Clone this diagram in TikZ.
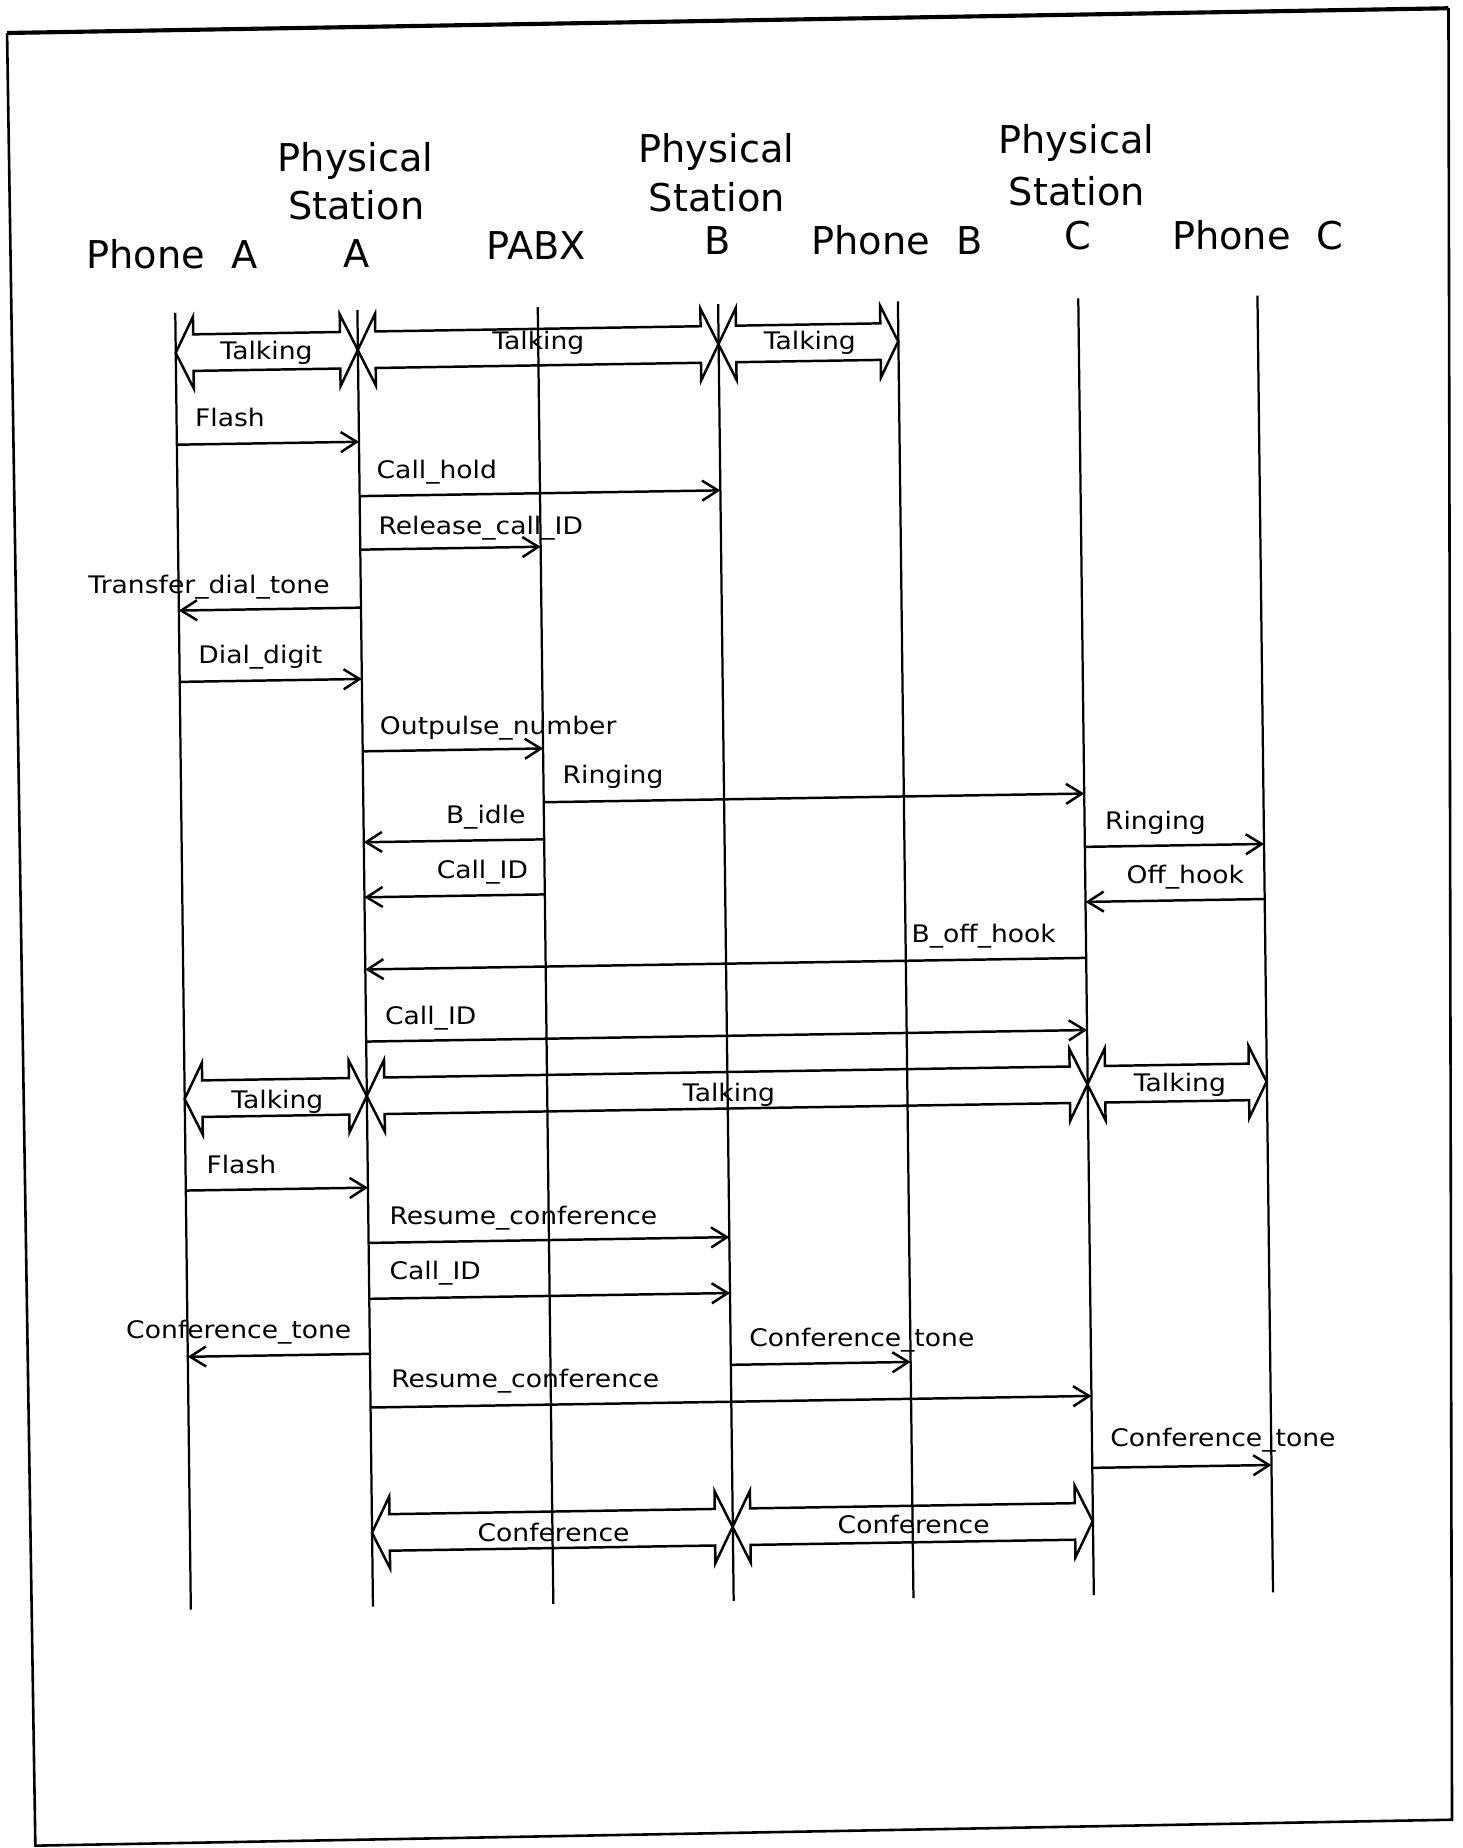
\documentclass[tikz,border=0pt]{standalone}
\usepackage{fontspec}
\setmainfont{DejaVu Sans}
\newfontfamily\hdrfont{DejaVu Sans}
\newfontfamily\lblfont[FakeStretch=1.1]{DejaVu Sans}
\usetikzlibrary{arrows.meta}
\def\xPA{155}\def\xSA{309.5}\def\xPX{462.5}\def\xSB{615.5}\def\xPB{768}\def\xSC{921}\def\xPC{1073}
\newcommand\msgline[4]{%
  \coordinate (#1-s) at (#2,#4);
  \coordinate (#1-e) at (#3,#4);
  \draw[msg] (#1-s) -- (#1-e);}
\newcommand\blockar[3]{%
  \pgfmathsetmacro\ba{#1+15}\pgfmathsetmacro\bb{#2-15}%
  \pgfmathsetmacro\yt{#3-30.5}\pgfmathsetmacro\ys{#3-15.5}%
  \pgfmathsetmacro\yu{#3+15.5}\pgfmathsetmacro\yb{#3+30.5}%
  \draw[blk] (#1,#3) -- (\ba,\yt) -- (\ba,\ys) -- (\bb,\ys) -- (\bb,\yt) -- (#2,#3)
     -- (\bb,\yb) -- (\bb,\yu) -- (\ba,\yu) -- (\ba,\yb) -- cycle;}
\begin{document}
\begin{tikzpicture}[x=1pt,y=-1pt,
  life/.style={line width=1.9pt},
  msg/.style={line width=2.1pt,-{Straight Barb[length=13.5pt,width=17pt]}},
  blk/.style={line width=2.1pt,line join=miter},
  hdr/.style={inner sep=0pt,anchor=base,font=\hdrfont\fontsize{32.5}{39}\selectfont},
  lbl/.style={inner sep=0pt,anchor=base west,font=\lblfont\fontsize{20.5}{24}\selectfont},
  clbl/.style={lbl,anchor=base},
  frameline/.style={line width=2.2pt}]
\useasboundingbox (0,0) rectangle (1241,1568);
% frame of the sheet
\draw[line width=3.5pt] (6,28) -- (1229,7);
\draw[frameline] (1229,7) -- (1232,1544) -- (30,1566) -- (6,28);

\begin{scope}[cm={1,0.016,-0.012,1,(-9.408pt,-9.92pt)}]
% headers
\node[hdr] (hPA) at (152.7,220) {Phone\hspace{22pt}A};
\node[hdr] (hSA1) at (\xSA,140.5) {Physical};
\node[hdr] (hSA2) at (\xSA,181) {Station};
\node[hdr] (hSA3) at (\xSA,222.4) {A};
\node[hdr] (hPX) at (461.8,217.4) {PABX};
\node[hdr] (hSB1) at (\xSB,137.8) {Physical};
\node[hdr] (hSB2) at (\xSB,179.4) {Station};
\node[hdr] (hSB3) at (\xSB,216.1) {B};
\node[hdr] (hPB) at (767.8,218.6) {Phone\hspace{22pt}B};
\node[hdr] (hSC1) at (\xSC,134.7) {Physical};
\node[hdr] (hSC2) at (\xSC,179.4) {Station};
\node[hdr] (hSC3) at (\xSC,216.2) {C};
\node[hdr] (hPC) at (1073.9,218.7) {Phone\hspace{22pt}C};

% lifelines
\foreach \n/\x in {PA/155,SA/309.5,PX/462.5,SB/615.5,PB/768,SC/921,PC/1073}{
  \coordinate (\n-t) at (\x,258);
  \coordinate (\n-b) at (\x,1358);
  \draw[life] (\n-t) -- (\n-b);
}

% block arrows
\blockar{\xPA}{\xSA}{292}
\blockar{\xSA}{\xSB}{292}
\blockar{\xSB}{\xPB}{292}
\blockar{\xPA}{\xSA}{925}
\blockar{\xSA}{\xSC}{925}
\blockar{\xSC}{\xPC}{925}
\blockar{\xSA}{\xSB}{1295.5}
\blockar{\xSB}{\xSC}{1295.5}

% messages
\msgline{m1}{\xPA}{\xSA}{369.8}
\msgline{m2}{\xSA}{\xSB}{415.9}
\msgline{m3}{\xSA}{\xPX}{461.3}
\msgline{m4}{\xSA}{\xPA}{510.5}
\msgline{m5}{\xPA}{\xSA}{571}
\msgline{m6}{\xSA}{\xPX}{632.4}
\msgline{m7}{\xPX}{\xSC}{678}
\msgline{m8}{\xPX}{\xSA}{709.5}
\msgline{m9}{\xSC}{\xPC}{723.2}
\msgline{m10}{\xPX}{\xSA}{756.2}
\msgline{m11}{\xPC}{\xSC}{769.9}
\msgline{m12}{\xSC}{\xSA}{817.4}
\msgline{m13}{\xSA}{\xSC}{878.6}
\msgline{m14}{\xPA}{\xSA}{1002.5}
\msgline{m15}{\xSA}{\xSB}{1049.4}
\msgline{m16}{\xSA}{\xSB}{1096.8}
\msgline{m17}{\xSA}{\xPA}{1143.5}
\msgline{m18}{\xSB}{\xPB}{1157.7}
\msgline{m19}{\xSA}{\xSC}{1189}
\msgline{m20}{\xSC}{\xPC}{1250}

% labels
\node[clbl] (l1) at (231.9,298.5) {Talking};
\node[clbl] (l2) at (462.6,293.7) {Talking};
\node[clbl] (l3) at (692.9,297.4) {Talking};
\node[lbl] (l4) at (170.5,354.7) {Flash};
\node[lbl] (l5) at (324.0,400.9) {Call\_hold};
\node[lbl] (l6) at (325.0,449.0) {Release\_call\_ID};
\node[lbl] (l7) at (78.3,494.6) {Transfer\_dial\_tone};
\node[lbl] (l8) at (170.9,555.5) {Dial\_digit};
\node[lbl] (l9) at (324.2,618.7) {Outpulse\_number};
\node[lbl] (l10) at (478.7,662.2) {Ringing};
\node[lbl] (l11) at (379.3,694.5) {B\_idle};
\node[lbl] (l12) at (370.9,741.1) {Call\_ID};
\node[lbl] (l13) at (938.3,708.6) {Ringing};
\node[lbl] (l14) at (956.1,754.7) {Off\_hook};
\node[lbl] (l15) at (773.1,802.5) {B\_off\_hook};
\node[lbl] (l16) at (325.6,864.8) {Call\_ID};
\node[clbl] (l17) at (233.5,934.0) {Talking};
\node[clbl] (l18) at (616.7,934.5) {Talking};
\node[clbl] (l19) at (999.3,932.0) {Talking};
\node[lbl] (l20) at (172.6,988.2) {Flash};
\node[lbl] (l21) at (327.3,1034.5) {Resume\_conference};
\node[lbl] (l22) at (326.8,1081.2) {Call\_ID};
\node[lbl] (l23) at (102.8,1127) {Conference\_tone};
\node[lbl] (l24) at (327.2,1172.2) {Resume\_conference};
\node[lbl] (l25) at (631.3,1142.5) {Conference\_tone};
\node[lbl] (l26) at (936.6,1232.3) {Conference\_tone};
\node[clbl] (l27) at (463.4,1305.3) {Conference};
\node[clbl] (l28) at (769.0,1303.2) {Conference};
\end{scope}
\end{tikzpicture}
\end{document}
